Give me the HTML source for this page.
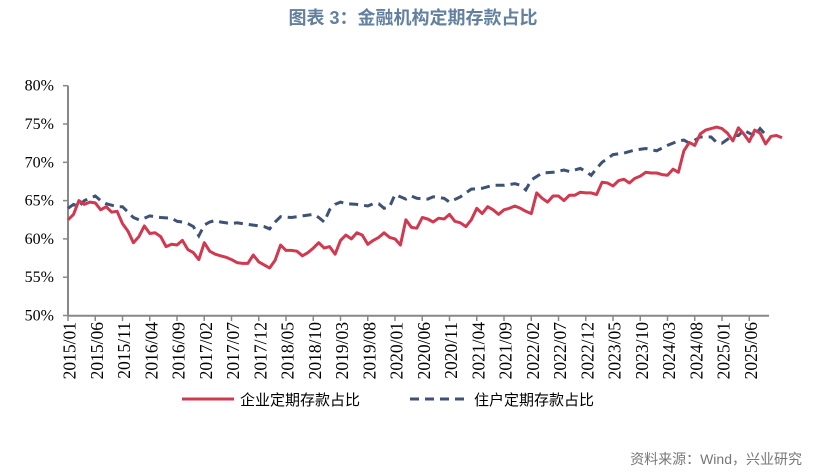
<!DOCTYPE html>
<html><head><meta charset="utf-8"><style>
body{margin:0;background:#fff;width:826px;height:472px;overflow:hidden}
svg{display:block}
</style></head><body>
<svg id="s" width="826" height="472" xmlns="http://www.w3.org/2000/svg">
<text x="413" y="24" text-anchor="middle" font-family="Liberation Sans,'Noto Sans CJK SC',sans-serif" font-size="18" font-weight="bold" fill="#62809f">图表 3：金融机构定期存款占比</text>
<g id="ax" font-family="Liberation Serif,'Noto Serif CJK SC',serif" font-size="16" fill="#000"></g>
<line x1="68" y1="85.7" x2="68" y2="316" stroke="#888" stroke-width="2"/>
<line x1="68" y1="315.7" x2="769" y2="315.7" stroke="#888" stroke-width="2"/>
<path id="b" fill="none" stroke="#3d5275" stroke-width="3" stroke-dasharray="9,6"/>
<path id="r" fill="none" stroke="#d0394f" stroke-width="3" stroke-linejoin="round"/>
<line x1="182" y1="399" x2="234" y2="399" stroke="#d0394f" stroke-width="3"/>
<text x="240" y="405" font-family="'Noto Sans CJK SC',sans-serif" font-size="15">企业定期存款占比</text>
<line x1="410" y1="399" x2="466" y2="399" stroke="#3d5275" stroke-width="3" stroke-dasharray="9,6"/>
<text x="474" y="405" font-family="'Noto Sans CJK SC',sans-serif" font-size="15">住户定期存款占比</text>
<text x="802" y="464" text-anchor="end" font-family="Liberation Sans,'Noto Sans CJK SC',sans-serif" font-size="14" fill="#777">资料来源：Wind，兴业研究</text>
</svg>
<script>
var X0=68,DX=5.45,Y=function(v){return 85.7+(80-v)*7.66};
var red=[62.5,63.2,65.0,64.5,64.8,64.7,63.8,64.2,63.5,63.6,62,61,59.5,60.3,61.7,60.7,60.8,60.3,59,59.3,59.2,59.8,58.6,58.2,57.3,59.5,58.4,58,57.8,57.6,57.3,56.9,56.8,56.8,57.9,57,56.6,56.2,57.2,59.2,58.5,58.5,58.4,57.8,58.2,58.8,59.5,58.8,59.0,58.0,59.8,60.5,60.0,60.8,60.5,59.3,59.8,60.2,60.8,60.2,60.0,59.2,62.5,61.5,61.4,62.8,62.6,62.2,62.7,62.6,63.2,62.3,62.1,61.6,62.5,64.0,63.3,64.2,63.8,63.2,63.8,64.0,64.3,64.0,63.6,63.3,66.0,65.3,64.8,65.6,65.6,65.0,65.7,65.7,66.1,66.0,66.0,65.8,67.4,67.3,66.9,67.6,67.8,67.3,67.9,68.2,68.7,68.6,68.6,68.4,68.3,69.1,68.7,71.5,72.6,72.2,73.7,74.2,74.4,74.6,74.4,73.8,72.8,74.5,73.7,72.7,74.2,73.8,72.4,73.4,73.5,73.2];
var bk={0:64.0,1:64.5,2:64.2,3:65.0,5:65.6,6:65.0,7:64.6,9:64.2,10:64.2,11:63.5,12:62.8,13:62.5,14:62.7,15:63.0,17:62.8,19:62.7,20:62.3,21:62.2,22:62.0,23:61.6,24:60.4,25:61.8,26:62.2,27:62.4,28:62.2,30:62.0,31:62.1,32:62.0,34:61.8,36:61.6,37:61.3,38:62.2,39:62.9,41:62.8,43:63.0,45:63.2,46:62.8,47:62.2,48:63.8,49:64.5,50:64.8,51:64.6,53:64.5,55:64.3,56:64.6,57:64.6,58:64.0,59:64.2,60:65.8,61:65.5,62:65.2,63:65.6,64:65.3,66:65.2,67:65.5,69:65.3,70:64.8,72:65.5,74:66.5,76:66.6,78:67.0,80:67.0,82:67.2,83:67.0,84:66.4,85:67.7,87:68.6,89:68.7,91:69.0,92:68.8,94:69.2,95:68.8,96:68.3,97:69.2,98:70.0,100:71.0,102:71.2,104:71.6,106:71.8,108:71.5,110:72.2,112:72.8,113:72.9,114:72.5,116:73.3,118:73.3,119:72.6,120:72.5,122:73.5,123:73.5,124:74.2,125:73.8,126:73.5,127:74.4,128:73.6};
function P(pts){return pts.map(function(p,i){return(i?'L':'M')+(X0+p[0]*DX).toFixed(1)+','+Y(p[1]).toFixed(1)}).join('')}
document.getElementById('r').setAttribute('d',P(red.map(function(v,i){return[i,v]})));
document.getElementById('b').setAttribute('d',P(Object.keys(bk).map(Number).sort(function(a,b){return a-b}).map(function(k){return[k,bk[k]]})));
var ax=document.getElementById('ax'),h='';
for(var v=50;v<=80;v+=5){var y=Y(v);h+='<line x1="63" y1="'+y+'" x2="68" y2="'+y+'" stroke="#888" stroke-width="1.5"/><text x="54" y="'+(y+5)+'" text-anchor="end">'+v+'%</text>';}
for(var m=0;m<=125;m+=5){var x=X0+m*DX,yr=2015+Math.floor(m/12),mo=m%12+1;h+='<line x1="'+x+'" y1="316" x2="'+x+'" y2="321" stroke="#888" stroke-width="1.5"/><text font-size="17.5" transform="translate('+(x+7.5)+',322) rotate(-90)" text-anchor="end">'+yr+'/'+(mo<10?'0':'')+mo+'</text>';}
ax.innerHTML=h;
</script>
</body></html>
